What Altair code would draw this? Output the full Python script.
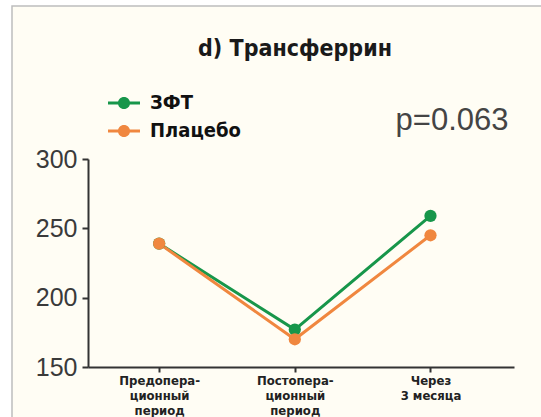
import altair as alt
import pandas as pd

# Transferrin levels by period for the two groups
periods = ["Предопера-|ционный|период", "Постопера-|ционный|период", "Через|3 месяца"]
groups = ["ЗФТ", "Плацебо"]
zft = [239, 177, 259]
placebo = [239, 170, 245]
colors = ["#17964a", "#f0873f"]
title_text = "d) Трансферрин"
p_label = "p=0.063"

rows = []
for g, vals in zip(groups, [zft, placebo]):
    for per, v in zip(periods, vals):
        rows.append({"period": per, "group": g, "value": v})
df = pd.DataFrame(rows)

narrow = "Liberation Sans Narrow, DejaVu Sans Condensed, Arial Narrow, sans-serif"
regular = "Liberation Sans, Arial, sans-serif"

x_enc = alt.X(
    "period:N",
    sort=periods,
    scale=alt.Scale(type="point", padding=0.57, align=0.46),
    axis=alt.Axis(
        title=None,
        zindex=1,
        labelExpr="split(datum.label, '|')",
        labelAngle=0,
        labelFont=narrow,
        labelFontWeight="bold",
        labelFontSize=13,
        labelColor="#222222",
        labelLineHeight=15,
        labelPadding=2,
        tickSize=5,
        tickWidth=2,
        tickColor="#333333",
        domainColor="#333333",
        domainWidth=2,
    ),
)
y_enc = alt.Y(
    "value:Q",
    scale=alt.Scale(domain=[150, 300], nice=False, zero=False),
    axis=alt.Axis(
        title=None,
        zindex=1,
        values=[150, 200, 250, 300],
        labelFont=regular,
        labelFontSize=25,
        labelColor="#3a3a3a",
        labelPadding=5,
        tickSize=6,
        tickWidth=2,
        tickColor="#333333",
        domainColor="#333333",
        domainWidth=2,
        grid=False,
    ),
)
legend_symbol = (
    "M-1,-0.09 L1,-0.09 L1,0.09 L-1,0.09 Z "
    "M-0.38,0 A0.38,0.38 0 1,1 0.38,0 A0.38,0.38 0 1,1 -0.38,0 Z"
)
color_enc = alt.Color(
    "group:N",
    sort=groups,
    scale=alt.Scale(domain=groups, range=colors),
    legend=alt.Legend(
        title=None,
        orient="none",
        legendX=20,
        legendY=-72,
        symbolType=legend_symbol,
        symbolSize=1024,
        symbolStrokeWidth=0,
        symbolOpacity=1,
        labelFont=narrow,
        labelFontWeight="bold",
        labelFontSize=20,
        labelColor="#111111",
        labelOffset=10,
        rowPadding=2,
    ),
)

# slide panel: cream fill with a thin grey border on the top and left
frame = alt.Chart(pd.DataFrame({"a": [0]})).mark_rect(
    fill="#fffdf4", stroke="#bdbdbd", strokeWidth=1.5
).encode(
    x=alt.value(-76), x2=alt.value(700), y=alt.value(-153), y2=alt.value(600)
)

lines = alt.Chart(df).mark_line(strokeWidth=3).encode(
    x=x_enc, y=y_enc, color=color_enc, order=alt.Order("group:N")
)
points = alt.Chart(df).mark_circle(size=150, opacity=1).encode(
    x=x_enc, y=y_enc, color=color_enc
)

title = alt.Chart(pd.DataFrame({"t": [title_text]})).mark_text(
    font=narrow, fontSize=23, fontWeight="bold", color="#1a1a1a",
    align="center", baseline="alphabetic"
).encode(text="t:N", x=alt.value(207), y=alt.value(-103))

pval = alt.Chart(pd.DataFrame({"t": [p_label]})).mark_text(
    font=regular, fontSize=31, color="#444444", align="center", baseline="middle"
).encode(text="t:N", x=alt.value(364), y=alt.value(-38))

chart = (
    alt.layer(frame, lines, points, title, pval)
    .properties(
        width=426,
        height=208,
        background="#ffffff",
        padding={"left": 88, "top": 159, "right": 27, "bottom": 50},
        autosize=alt.AutoSizeParams(type="none"),
    )
    .configure_view(strokeWidth=0)
)

chart.save("out.html", embed_options={"renderer": "svg", "actions": False})
